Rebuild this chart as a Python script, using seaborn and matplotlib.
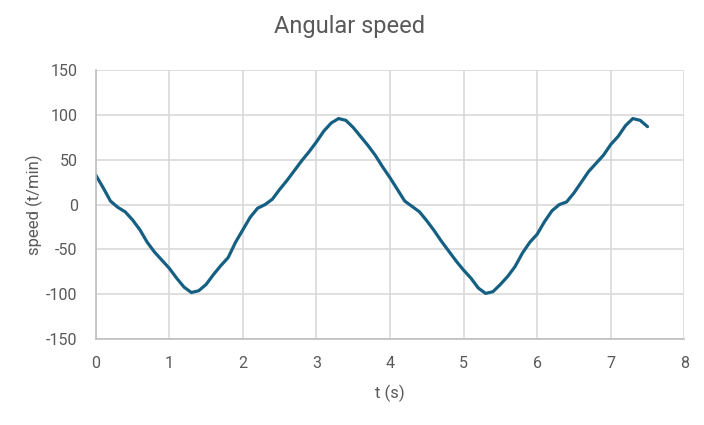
import numpy as np
import pandas as pd
import seaborn as sns
import matplotlib
matplotlib.use('Agg')
import matplotlib.pyplot as plt

# time in seconds, step 0.1
t = [round(i * 0.1, 1) for i in range(76)]
speed = [33, 19, 4, -3, -8, -17, -28, -42, -53, -62,
         -71, -82, -92, -98, -96, -89, -78, -68, -59, -42,
         -28, -14, -4, 0, 6, 17, 27, 38, 49, 59,
         70, 82, 91, 96, 94, 86, 76, 66, 55, 42,
         30, 17, 4, -2, -8, -18, -29, -41, -52, -63,
         -73, -82, -93, -99, -97, -89, -80, -69, -54, -42,
         -33, -19, -7, 0, 3, 13, 25, 37, 46, 55,
         67, 76, 88, 96, 94, 87]
x_ticks = [0, 1, 2, 3, 4, 5, 6, 7, 8]
y_ticks = [-150, -100, -50, 0, 50, 100, 150]

df = pd.DataFrame({'t': t, 'speed': speed})

sns.set_style('white')
plt.rcParams['font.family'] = ['Roboto', 'DejaVu Sans']
plt.rcParams['axes.unicode_minus'] = False

grey = '#595959'
fig = plt.figure(figsize=(7.04, 4.25), dpi=100)
ax = fig.add_axes([0.136, 0.202, 0.836, 0.633])
sns.lineplot(data=df, x='t', y='speed', ax=ax, color='#156082', linewidth=2.3)

ax.set_xlim(0, 8)
ax.set_ylim(-150, 150)
ax.set_xticks(x_ticks)
ax.set_yticks(y_ticks)
ax.grid(True, color='#d9d9d9', linewidth=1.2)
ax.set_axisbelow(True)
for s in ['top', 'right']:
    ax.spines[s].set_visible(False)
for s in ['left', 'bottom']:
    ax.spines[s].set_color('#bfbfbf')
    ax.spines[s].set_linewidth(1.2)
ax.tick_params(length=0, labelsize=11.5, colors=grey)
ax.tick_params(axis='y', pad=13)
ax.tick_params(axis='x', pad=12)
ax.set_xlabel('t (s)', fontsize=12, color=grey, labelpad=10)
ax.set_ylabel('speed (t/min)', fontsize=12, color=grey, labelpad=2)
fig.suptitle('Angular speed', fontsize=17, color=grey, x=0.497, y=0.965)

fig.savefig('out.png', dpi=100)
